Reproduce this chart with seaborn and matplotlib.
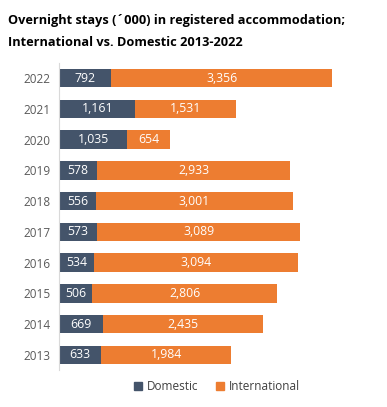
import matplotlib
matplotlib.use("Agg")
import matplotlib.pyplot as plt
import seaborn as sns
import pandas as pd
from matplotlib.patches import Patch

years = ["2022", "2021", "2020", "2019", "2018", "2017", "2016", "2015", "2014", "2013"]
domestic = [792, 1161, 1035, 578, 556, 573, 534, 506, 669, 633]
international = [3356, 1531, 654, 2933, 3001, 3089, 3094, 2806, 2435, 1984]

NAVY = "#44546A"
ORANGE = "#ED7D31"

df = pd.DataFrame({"year": years, "domestic": domestic, "international": international})
df["total"] = df["domestic"] + df["international"]

sns.set_style("white")
plt.rcParams["font.family"] = ["Open Sans", "DejaVu Sans"]

fig = plt.figure(figsize=(3.87, 4.07), dpi=100)
ax = fig.add_axes([0.1525, 0.09, 0.80, 0.756])

sns.barplot(data=df, x="total", y="year", order=years, color=ORANGE,
            orient="h", width=0.6, saturation=1, linewidth=0, ax=ax)
sns.barplot(data=df, x="domestic", y="year", order=years, color=NAVY,
            orient="h", width=0.6, saturation=1, linewidth=0, ax=ax)

for i, r in df.iterrows():
    ax.text(r["domestic"] / 2, i, f"{r['domestic']:,}", ha="center", va="center",
            color="white", fontsize=8.8)
    ax.text(r["domestic"] + r["international"] / 2, i, f"{r['international']:,}",
            ha="center", va="center", color="white", fontsize=8.8)

ax.set_xlim(0, 4700)
ax.set_xlabel("")
ax.set_ylabel("")
ax.set_xticks([])
ax.tick_params(axis="y", length=0, pad=6, labelsize=8.5, labelcolor="#595959")
for s in ["top", "right", "bottom"]:
    ax.spines[s].set_visible(False)
ax.spines["left"].set_color("#D9D9D9")
ax.spines["left"].set_linewidth(0.8)

fig.text(0.02, 0.965, "Overnight stays (´000) in registered accommodation;\nInternational vs. Domestic 2013-2022",
         ha="left", va="top", fontsize=9.2, fontweight="bold", color="#000000", linespacing=1.9)

handles = [Patch(color=NAVY, label="Domestic"), Patch(color=ORANGE, label="International")]
fig.legend(handles=handles, loc="center", bbox_to_anchor=(0.56, 0.05), ncol=2,
           frameon=False, fontsize=8.5, handlelength=0.7, handleheight=0.7,
           columnspacing=1.5, handletextpad=0.4, labelcolor="#404040")

fig.savefig("out.png", dpi=100)
